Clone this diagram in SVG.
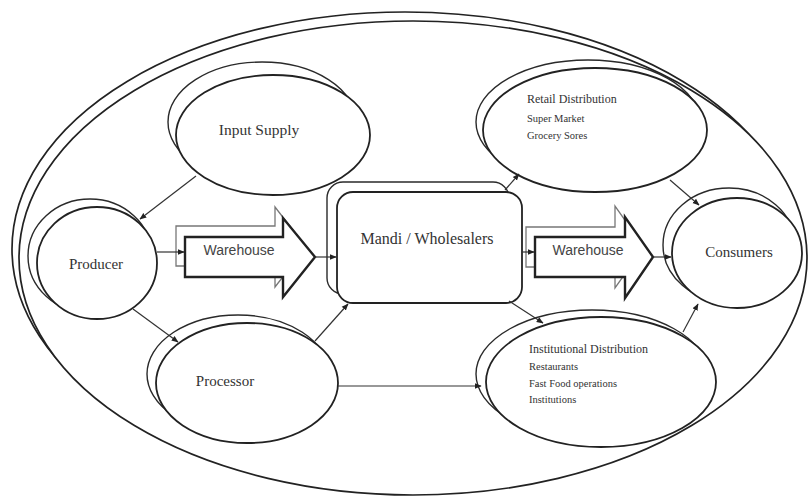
<svg xmlns="http://www.w3.org/2000/svg" width="808" height="497" viewBox="0 0 808 497">
<style>
.ol{fill:#fff;stroke:#222;stroke-width:1.7}
.sh{fill:none;stroke:#2a2a2a;stroke-width:1.4}
.nd{fill:#fff;stroke:#222;stroke-width:1.8}
.t{font-family:"Liberation Serif",serif;fill:#333}
.w{font-family:"Liberation Sans",sans-serif;fill:#444;font-size:14px}
.c{fill:none;stroke:#333;stroke-width:1.2}
.ab{fill:#fff;stroke:#222;stroke-width:2.4}
.as{fill:#fff;stroke:#777;stroke-width:1.3}
</style>
<defs>
<marker id="ah" viewBox="0 0 10 10" refX="9" refY="5" markerWidth="7" markerHeight="7" orient="auto" markerUnits="userSpaceOnUse">
<path d="M0,1 L10,5 L0,9 z" fill="#222"/>
</marker>
</defs>
<rect width="808" height="497" fill="#fff"/>
<g id="outer">
<ellipse class="ol" cx="405" cy="249" rx="393" ry="237"/>
<ellipse class="ol" cx="413" cy="258" rx="394" ry="237"/>
</g>
<g id="input-supply">
<ellipse class="sh" cx="262" cy="122" rx="94" ry="60"/>
<ellipse class="nd" cx="273" cy="135" rx="97" ry="60"/>
<text class="t" x="259" y="135" font-size="15.5" text-anchor="middle">Input Supply</text>
</g>
<g id="producer">
<ellipse class="sh" cx="90" cy="256" rx="62" ry="57"/>
<ellipse class="nd" cx="97" cy="263" rx="60" ry="56"/>
<text class="t" x="96" y="269" font-size="15" text-anchor="middle">Producer</text>
</g>
<g id="processor">
<ellipse class="sh" cx="238" cy="374" rx="91" ry="59"/>
<ellipse class="nd" cx="247" cy="383" rx="91" ry="60"/>
<text class="t" x="225" y="386" font-size="15" text-anchor="middle">Processor</text>
</g>
<g id="retail">
<ellipse class="sh" cx="588" cy="122" rx="112" ry="62"/>
<ellipse class="nd" cx="595" cy="130" rx="112" ry="62"/>
<text class="t" x="527" y="103" font-size="12">Retail Distribution</text>
<text class="t" x="527" y="122" font-size="10.5">Super Market</text>
<text class="t" x="527" y="139" font-size="10.5">Grocery Sores</text>
</g>
<g id="institutional">
<ellipse class="sh" cx="592" cy="374" rx="116" ry="64"/>
<ellipse class="nd" cx="601" cy="382" rx="115" ry="65"/>
<text class="t" x="529" y="353" font-size="12">Institutional Distribution</text>
<text class="t" x="529" y="370" font-size="10.5">Restaurants</text>
<text class="t" x="529" y="387" font-size="10.5">Fast Food operations</text>
<text class="t" x="529" y="403" font-size="10.5">Institutions</text>
</g>
<g id="consumers">
<ellipse class="sh" cx="729" cy="245" rx="66" ry="57"/>
<ellipse class="nd" cx="737" cy="253" rx="65" ry="55"/>
<text class="t" x="739" y="257" font-size="15" text-anchor="middle">Consumers</text>
</g>
<g id="mandi">
<rect class="sh" x="327" y="182" width="182" height="112" rx="16"/>
<rect class="nd" x="337" y="192" width="185" height="111" rx="16" stroke-width="2.2"/>
<text class="t" x="427" y="244" font-size="16" text-anchor="middle">Mandi / Wholesalers</text>
</g>
<g id="warehouse1">
<path class="as" d="M176,226 H275 V207 L306,247 L275,287 V266 H176 z"/>
<path class="ab" d="M185,237 H283 V218 L315,257 L283,297 V277 H185 z"/>
<text class="w" x="239" y="255" text-anchor="middle">Warehouse</text>
</g>
<g id="warehouse2">
<path class="as" d="M526,227 H615 V206 L644,247 L615,288 V267 H526 z"/>
<path class="ab" d="M535,237 H625 V217 L653,257 L625,298 V277 H535 z"/>
<text class="w" x="588" y="255" text-anchor="middle">Warehouse</text>
</g>
<g id="connectors">
<line class="c" x1="196" y1="176" x2="140" y2="219" marker-end="url(#ah)"/>
<line class="c" x1="157" y1="252" x2="184" y2="252" marker-end="url(#ah)"/>
<line class="c" x1="315" y1="257" x2="336" y2="257" marker-end="url(#ah)"/>
<line class="c" x1="522" y1="252" x2="534" y2="252" marker-end="url(#ah)"/>
<line class="c" x1="653" y1="257" x2="671" y2="257" marker-end="url(#ah)"/>
<line class="c" x1="133" y1="309" x2="178" y2="342" marker-end="url(#ah)"/>
<line class="c" x1="315" y1="341" x2="348" y2="304" marker-end="url(#ah)"/>
<line class="c" x1="338" y1="386" x2="481" y2="386" marker-end="url(#ah)"/>
<line class="c" x1="505" y1="190" x2="519" y2="174" marker-end="url(#ah)"/>
<line class="c" x1="509" y1="301" x2="543" y2="323" marker-end="url(#ah)"/>
<line class="c" x1="670" y1="180" x2="699" y2="205" marker-end="url(#ah)"/>
<line class="c" x1="683" y1="332" x2="698" y2="304" marker-end="url(#ah)"/>
</g>
</svg>
